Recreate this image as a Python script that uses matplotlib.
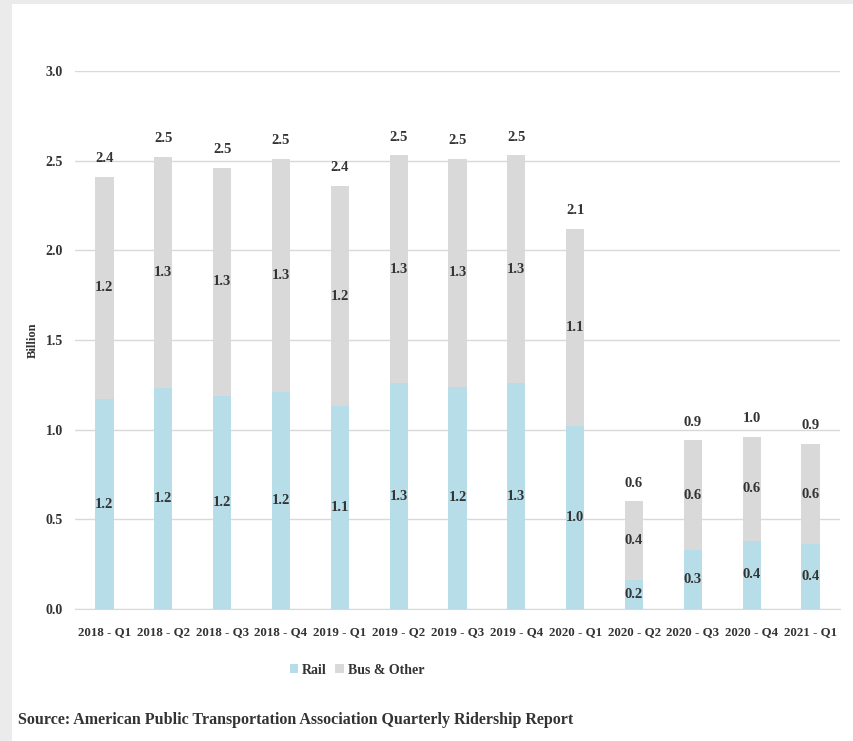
import numpy as np
import matplotlib.pyplot as plt
from matplotlib.patches import Rectangle

quarters = ['2018 - Q1', '2018 - Q2', '2018 - Q3', '2018 - Q4', '2019 - Q1',
            '2019 - Q2', '2019 - Q3', '2019 - Q4', '2020 - Q1', '2020 - Q2',
            '2020 - Q3', '2020 - Q4', '2021 - Q1']
rail = [1.17, 1.23, 1.19, 1.21, 1.13, 1.26, 1.24, 1.26, 1.02, 0.16, 0.33, 0.38, 0.36]
bus = [1.24, 1.29, 1.27, 1.30, 1.23, 1.27, 1.27, 1.27, 1.10, 0.44, 0.61, 0.58, 0.56]
yticks = [0.0, 0.5, 1.0, 1.5, 2.0, 2.5, 3.0]

rail_color = '#b7dde8'
bus_color = '#d9d9d9'
txt = '#333333'

plt.rcParams['font.family'] = ['Liberation Serif', 'DejaVu Serif']
plt.rcParams['font.weight'] = 'bold'


def main() -> None:
    fig = plt.figure(figsize=(8.54, 7.41), dpi=100)
    fig.patch.set_facecolor('#ebebeb')
    # white panel inside the grey frame
    panel = Rectangle((12 / 854, 0), 1, 1 - 4 / 741, transform=fig.transFigure,
                      facecolor='white', edgecolor='none', zorder=-10)
    fig.add_artist(panel)

    ax = fig.add_axes([75 / 854, 1 - 609 / 741, 765 / 854, (609 - 71) / 741])
    ax.set_facecolor('none')

    x = np.arange(len(quarters))
    r = np.array(rail)
    b = np.array(bus)
    tot = r + b
    w = 0.31
    ax.bar(x, r, w, color=rail_color, label='Rail', zorder=2)
    ax.bar(x, b, w, bottom=r, color=bus_color, label='Bus & Other', zorder=2)

    for i in range(len(x)):
        ax.text(x[i], r[i] / 2, f'{r[i]:.1f}', ha='center', va='center',
                fontsize=10.5, color=txt, fontweight='bold', zorder=3)
        ax.text(x[i], r[i] + b[i] / 2, f'{b[i]:.1f}', ha='center', va='center',
                fontsize=10.5, color=txt, fontweight='bold', zorder=3)
        ax.text(x[i], tot[i] + 0.065, f'{tot[i]:.1f}', ha='center', va='bottom',
                fontsize=10.5, color=txt, fontweight='bold', zorder=3)

    ax.set_xlim(-0.5, 12.5)
    ax.set_ylim(0, 3.0)
    ax.set_yticks(yticks)
    ax.set_yticklabels([f'{v:.1f}' for v in yticks])
    ax.set_xticks(x)
    ax.set_xticklabels(quarters)
    ax.tick_params(axis='both', length=0, labelcolor=txt)
    ax.tick_params(axis='y', pad=8.5, labelsize=10)
    ax.tick_params(axis='x', pad=12, labelsize=9.3)
    ax.grid(axis='y', color='#d9d9d9', linewidth=1, zorder=0)
    ax.set_axisbelow(True)
    for s in ['top', 'right', 'left']:
        ax.spines[s].set_visible(False)
    ax.spines['bottom'].set_color('#d9d9d9')
    ax.set_ylabel('Billion', fontsize=9, color=txt, fontweight='bold', labelpad=5)

    ax.legend(loc='center', bbox_to_anchor=(357 / 854, 1 - 670 / 741),
              bbox_transform=fig.transFigure, ncol=2, frameon=False,
              fontsize=10, handlelength=0.6, handleheight=0.6, handletextpad=0.3,
              columnspacing=0.6, labelcolor=txt)

    fig.text(18 / 854, 1 - 720 / 741,
             'Source: American Public Transportation Association Quarterly Ridership Report',
             fontsize=11.5, color=txt, fontweight='bold', va='center', ha='left')

    fig.savefig('out.png', dpi=100, facecolor=fig.get_facecolor())


main()
